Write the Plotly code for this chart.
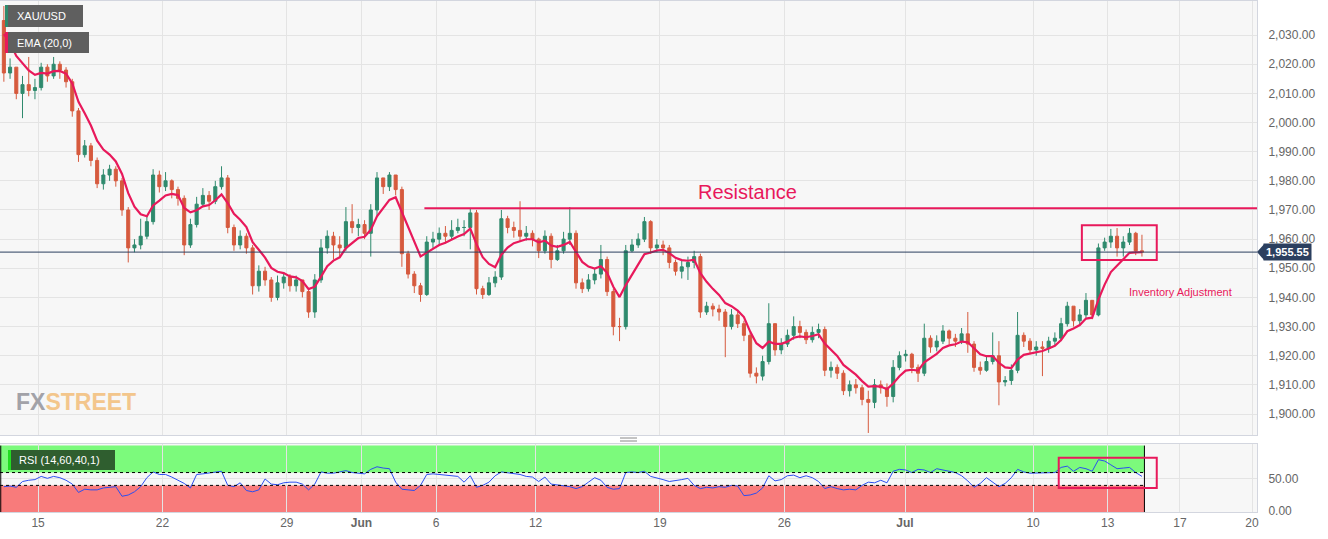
import numpy as np
import pandas as pd
import plotly.graph_objects as go

# XAU/USD, 6h candles (4 per trading day), May 11 -> Jul 14
first_open = 2035.0
close = [
    2017, 2019, 2010, 2013, 2011, 2012, 2019, 2016, 2020, 2018,
    2014, 2004, 1989, 1992, 1987, 1979, 1982, 1984, 1980, 1970,
    1957, 1958, 1961, 1966, 1982, 1978, 1980, 1977, 1974, 1958,
    1965, 1972, 1975, 1973, 1978, 1981, 1964, 1958, 1961, 1957,
    1944, 1949, 1946, 1940, 1945, 1947, 1944, 1946, 1942, 1935,
    1946, 1957, 1961, 1958, 1957, 1966, 1964, 1965, 1962, 1970,
    1981, 1978, 1982, 1977, 1955, 1948, 1944, 1941, 1959, 1960,
    1962, 1961, 1963, 1964, 1964, 1969, 1943, 1941, 1945, 1947,
    1967, 1964, 1963, 1961, 1962, 1960, 1956, 1961, 1953, 1956,
    1960, 1962, 1945, 1943, 1946, 1948, 1953, 1942, 1930, 1930,
    1956, 1958, 1960, 1966, 1957, 1958, 1957, 1952, 1949, 1950.5,
    1952, 1954, 1935, 1937, 1936, 1935, 1930, 1934, 1931, 1927,
    1914, 1913, 1918, 1931, 1922, 1924, 1927, 1930, 1928, 1925.5,
    1928, 1929, 1915, 1916, 1914, 1908, 1910, 1909, 1905, 1904,
    1910, 1909, 1906, 1916, 1920, 1920.5, 1916, 1914, 1926, 1923,
    1925, 1928.5, 1926, 1925, 1927.5, 1924, 1916, 1915, 1918, 1920,
    1911, 1911.5, 1915, 1927, 1925, 1922, 1923, 1922.5, 1925, 1926,
    1931, 1937, 1932, 1934, 1939, 1934, 1957, 1959, 1961, 1957,
    1959, 1962, 1956, 1955.55,
]
high = [
    2040, 2022, 2019, 2016, 2022.5, 2015, 2020.5, 2020, 2022.5, 2021,
    2019, 2015, 2005, 1994, 1993, 1988, 1984, 1985.5, 1985, 1981,
    1971, 1960, 1967, 1968, 1984, 1983.5, 1983, 1980.5, 1978, 1975,
    1967, 1974.5, 1977.5, 1976.5, 1980, 1985, 1982, 1965, 1963, 1962,
    1958, 1951, 1950.5, 1947, 1947.5, 1948.5, 1948, 1947.5, 1946, 1943,
    1948, 1960, 1963, 1962.5, 1961, 1971, 1972, 1967, 1966.5, 1972,
    1983, 1981, 1983, 1981.5, 1978, 1956, 1949, 1945, 1961, 1962.5,
    1964, 1964.5, 1966.5, 1967, 1966.5, 1970.5, 1970, 1944, 1947, 1949,
    1970, 1968, 1966, 1973, 1964.5, 1963, 1960.5, 1963, 1962, 1958,
    1962.5, 1971, 1963, 1946.5, 1948, 1950, 1958, 1954, 1943, 1933,
    1958, 1960, 1962, 1967.6, 1966.5, 1960, 1959.5, 1958, 1953, 1953,
    1954, 1956, 1955, 1938.5, 1938, 1937.5, 1936, 1936, 1935, 1932,
    1928, 1916, 1920, 1938, 1931, 1926, 1929, 1933.5, 1932, 1929,
    1930, 1931, 1930, 1918, 1917, 1915, 1911.5, 1912, 1910, 1908,
    1912, 1911.5, 1910.5, 1918.5, 1921.5, 1922, 1921, 1917, 1931, 1927,
    1927, 1930.5, 1929, 1927.5, 1929.5, 1935, 1925, 1918, 1920, 1928,
    1925, 1913, 1917, 1935, 1928, 1926, 1925, 1925, 1926.5, 1928,
    1933, 1938.5, 1937, 1936, 1941.5, 1939, 1958.5, 1960.5, 1963.5, 1963.8,
    1961, 1963.8, 1962.5, 1961.5,
]
low = [
    2014, 2015, 2008, 2001.5, 2009, 2008, 2011, 2014, 2015, 2015,
    2012, 2002, 1986.5, 1988, 1985, 1977.5, 1977, 1980, 1978, 1968,
    1952, 1955.5, 1956.5, 1960, 1965, 1976, 1976.5, 1974, 1971.5, 1954.5,
    1957, 1964, 1971, 1970, 1972, 1977, 1962, 1956, 1956.5, 1955,
    1941, 1942, 1944, 1938.5, 1939, 1943, 1942, 1942, 1940, 1933,
    1933, 1945, 1955, 1953, 1954, 1956, 1962, 1961, 1960, 1954,
    1968, 1975.5, 1976.5, 1975, 1950.5, 1946.5, 1941.5, 1938.5, 1940.5, 1957,
    1958, 1958.5, 1960, 1962, 1961, 1956.5, 1941, 1939.5, 1940.5, 1943.5,
    1946, 1962, 1960.5, 1959, 1959.5, 1957.5, 1953.5, 1955, 1950, 1952.5,
    1955, 1958, 1943, 1941.5, 1942, 1944.5, 1946.5, 1940.5, 1927, 1925,
    1929, 1955.5, 1957, 1959, 1955, 1955.5, 1954.5, 1950, 1947.5, 1946.5,
    1946, 1950, 1933, 1934, 1933.5, 1932, 1919.5, 1929, 1929.5, 1925,
    1912.5, 1910.5, 1911.5, 1917, 1920, 1920.5, 1923, 1925.5, 1926, 1924,
    1924.5, 1926, 1913, 1912.5, 1912, 1906.5, 1906, 1907, 1903, 1893.5,
    1902, 1907, 1902.5, 1904, 1915, 1918, 1914, 1911, 1913, 1921,
    1921.5, 1924, 1924, 1923, 1924, 1921, 1914.5, 1913.5, 1914.5, 1917,
    1903, 1909.5, 1910, 1914, 1923, 1920.5, 1920, 1913, 1921, 1923.5,
    1925, 1930, 1930, 1930.5, 1933, 1932.5, 1933.5, 1956, 1957, 1954,
    1954, 1958, 1954.5, 1954,
]
rsi = [
    38, 39, 37, 46, 48, 49, 54, 51, 54, 52,
    48, 42, 29, 34, 33, 33, 36, 37, 38, 23,
    25, 30, 38, 52, 61, 57, 57, 53, 48, 43,
    36, 57, 58, 59, 60, 62, 40, 38, 44, 32,
    30, 33, 50, 42, 41, 44, 45, 45, 42, 33,
    42, 61, 59, 59, 61, 63, 60, 59, 58, 65,
    69, 67, 66, 45, 34, 33, 32, 40, 57, 58,
    57, 57, 56, 54, 45, 55, 37, 40, 45, 55,
    61, 60, 59, 57, 54, 53, 46, 53, 42, 41,
    40, 38, 35, 38, 45, 52, 48, 37, 34, 35,
    60, 61, 60, 62, 54, 52, 49, 46, 47, 49,
    51, 40, 35, 37, 36, 38, 37, 40, 39, 24,
    25, 28, 36, 55, 47, 49, 55, 56, 52, 55,
    52, 46, 35, 38, 35, 33, 34, 33, 40, 45,
    44, 48, 44, 62, 65, 64, 60, 65, 64, 60,
    66, 64, 61, 60, 55, 47, 37, 43, 52, 45,
    38, 43, 52, 65, 61, 59, 59, 59, 59, 60,
    68, 70, 62, 68, 66, 62, 80, 78, 72, 66,
    67, 68, 60, 54,
]

tick_text = ["15", "22", "29", "<b>Jun</b>", "6", "12", "19", "26", "<b>Jul</b>",
             "10", "13", "17", "20"]
tick_day = [0, 5, 10, 13, 16, 20, 25, 30, 34.85, 40, 43, 45.9, 48.8]

resistance = 1970.6
last_price = 1955.55
box_lo, box_hi = 1952.8, 1964.8
rsi_box_lo, rsi_box_hi = 36, 83
ema_period = 20

# candle centres in trading days (May 15 open = 0)
x = -1.375 + 0.25 * np.arange(len(close))
open_ = [first_open] + close[:-1]

# EMA(20) of the underlying 2h series, applied per 6h candle
alpha = 1 - (1 - 2 / (ema_period + 1)) ** 3
ema = pd.Series([first_open] + close).ewm(alpha=alpha, adjust=False).mean().values[1:]

W, H = 1328, 539
L, R, T, B = 0, 71, 1, 27
pw, ph = W - L - R, H - T - B


def px(v):
    return v / pw


def py(v):
    return (H - B - v) / ph


x0, x1 = -1.53, 49.0
xend = x[-1] + 0.1
pink = "#e8195b"
green_c = "#2f8a6d"
red_c = "#d65a3e"
sans = "Arial, Liberation Sans, sans-serif"

fig = go.Figure()
fig.add_trace(go.Candlestick(
    x=x, open=open_, high=high, low=low, close=close,
    increasing=dict(line=dict(color=green_c, width=1), fillcolor=green_c),
    decreasing=dict(line=dict(color=red_c, width=1), fillcolor=red_c),
    whiskerwidth=0, hoverinfo="skip", xaxis="x", yaxis="y",
))
fig.add_trace(go.Scatter(
    x=x, y=ema, mode="lines", line=dict(color=pink, width=2.2),
    hoverinfo="skip", xaxis="x", yaxis="y",
))
fig.add_trace(go.Scatter(
    x=x, y=rsi, mode="lines", line=dict(color="#2b4ef0", width=1),
    hoverinfo="skip", xaxis="x2", yaxis="y2",
))

shapes = [
    # RSI zones
    dict(type="rect", xref="x2", yref="y2", x0=x0, x1=xend, y0=60, y1=102,
         fillcolor="#7cfa7c", line_width=0, layer="below"),
    dict(type="rect", xref="x2", yref="y2", x0=x0, x1=xend, y0=-1.5, y1=40,
         fillcolor="#f87b7b", line_width=0, layer="below"),
    dict(type="line", xref="x2", yref="y2", x0=x0, x1=xend, y0=60, y1=60,
         line=dict(color="black", width=1, dash="dot")),
    dict(type="line", xref="x2", yref="y2", x0=x0, x1=xend, y0=40, y1=40,
         line=dict(color="black", width=1, dash="dot")),
    dict(type="line", xref="x2", yref="y2", x0=xend, x1=xend, y0=-1.5, y1=102,
         line=dict(color="black", width=1)),
    dict(type="line", xref="x2", yref="y2", x0=x0 + 0.03, x1=x0 + 0.03, y0=-1.5, y1=102,
         line=dict(color="black", width=1)),
    dict(type="rect", xref="x2", yref="y2", x0=41.03, x1=44.97,
         y0=rsi_box_lo, y1=rsi_box_hi, line=dict(color=pink, width=2)),
    # last price line + marker
    dict(type="line", xref="x", yref="y", x0=x0, x1=x1, y0=last_price, y1=last_price,
         line=dict(color="#2b3f5f", width=1)),
    dict(type="path", xref="paper", yref="y",
         path=f"M {px(1257)},{last_price} L {px(1264)},{last_price + 2.7} L {px(1264)},{last_price - 2.7} Z",
         fillcolor="#2b3f5f", line_width=0),
    # resistance + box
    dict(type="line", xref="x", yref="y", x0=15.53, x1=x1, y0=resistance, y1=resistance,
         line=dict(color=pink, width=2)),
    dict(type="rect", xref="x", yref="y", x0=41.96, x1=44.97, y0=box_lo, y1=box_hi,
         line=dict(color=pink, width=2)),
    # legend tags
    dict(type="rect", xref="paper", yref="paper", x0=px(5), x1=px(83), y0=py(27), y1=py(5),
         fillcolor="#5f5f5f", line_width=0),
    dict(type="rect", xref="paper", yref="paper", x0=px(5), x1=px(8), y0=py(27), y1=py(5),
         fillcolor=green_c, line_width=0),
    dict(type="rect", xref="paper", yref="paper", x0=px(5), x1=px(89), y0=py(53), y1=py(32),
         fillcolor="#5f5f5f", line_width=0),
    dict(type="rect", xref="paper", yref="paper", x0=px(5), x1=px(8), y0=py(53), y1=py(32),
         fillcolor=pink, line_width=0),
    dict(type="rect", xref="paper", yref="paper", x0=px(8), x1=px(115), y0=py(470), y1=py(450),
         fillcolor="#2f5e2f", line_width=0),
    dict(type="rect", xref="paper", yref="paper", x0=px(8), x1=px(11), y0=py(470), y1=py(450),
         fillcolor="#22dd22", line_width=0),
    # splitter handle
    dict(type="line", xref="paper", yref="paper", x0=px(620), x1=px(637), y0=py(438), y1=py(438),
         line=dict(color="#888", width=1)),
    dict(type="line", xref="paper", yref="paper", x0=px(620), x1=px(637), y0=py(441), y1=py(441),
         line=dict(color="#888", width=1)),
]

tag_font = dict(family=sans, size=11, color="white")
annotations = [
    dict(text="XAU/USD", xref="paper", yref="paper", x=px(15), y=py(16),
         xanchor="left", yanchor="middle", showarrow=False, font=tag_font),
    dict(text="EMA (20,0)", xref="paper", yref="paper", x=px(15), y=py(43),
         xanchor="left", yanchor="middle", showarrow=False, font=tag_font),
    dict(text="RSI (14,60,40,1)", xref="paper", yref="paper", x=px(17), y=py(460),
         xanchor="left", yanchor="middle", showarrow=False, font=tag_font),
    dict(text="Resistance", xref="x", yref="y", x=28.52, y=1976.1, showarrow=False,
         font=dict(family=sans, size=20, color=pink)),
    dict(text="Inventory Adjustment", xref="x", yref="y", x=45.94, y=1941.8, showarrow=False,
         font=dict(family=sans, size=11, color=pink)),
    dict(text=f"<b>{last_price:,.2f}</b>", xref="paper", yref="y", x=px(1263), y=last_price,
         xanchor="left", yanchor="middle", showarrow=False, bgcolor="#2b3f5f",
         borderpad=2, font=dict(family=sans, size=11, color="white")),
    dict(text="<span style='color:#a2a2a8'>FX</span><span style='color:#f3c68c'>STREET</span>",
         xref="paper", yref="paper", x=px(14), y=py(402), xanchor="left", yanchor="middle",
         showarrow=False, font=dict(family=sans, size=23, weight="bold")),
]

axis_font = dict(family=sans, size=12, color="#666")
grid_c = "#e4e4e4"
frame_c = "#d3d6df"

fig.update_layout(
    width=W, height=H,
    margin=dict(l=L, r=R, t=T, b=B, autoexpand=False),
    paper_bgcolor="white", plot_bgcolor="#f7f7f7",
    showlegend=False,
    shapes=shapes, annotations=annotations,
    xaxis=dict(domain=[0, 1], range=[x0, x1], anchor="y", rangeslider=dict(visible=False),
               tickvals=tick_day, ticktext=tick_text, showticklabels=False,
               showgrid=True, gridcolor=grid_c, zeroline=False, automargin=False,
               showline=True, linecolor=frame_c, mirror=True),
    yaxis=dict(domain=[py(435), 1], range=[1892.8, 2041.7], side="right",
               tickvals=list(range(1900, 2031, 10)), tickformat=",.2f",
               tickfont=axis_font, ticklabelstandoff=8, ticks="", automargin=False,
               showgrid=True, gridcolor=grid_c, zeroline=False,
               showline=True, linecolor=frame_c, mirror=True),
    xaxis2=dict(domain=[0, 1], range=[x0, x1], anchor="y2", matches="x",
                tickvals=tick_day, ticktext=tick_text, tickfont=axis_font, automargin=False,
                ticks="", showgrid=True, gridcolor=grid_c, zeroline=False,
                showline=True, linecolor=frame_c, mirror=True),
    yaxis2=dict(domain=[0, py(444)], range=[-1.5, 104.5], side="right",
                tickvals=[0, 50], tickformat=".2f", tickfont=axis_font,
                ticklabelstandoff=8, ticks="", automargin=False,
                showgrid=True, gridcolor=grid_c, zeroline=False,
                showline=True, linecolor=frame_c, mirror=True),
)

# drop the default 8px page margin so the chart sits flush in the window
fig.write_html("out.html", config={"displayModeBar": False},
               post_script="document.body.style.margin='0px';")
